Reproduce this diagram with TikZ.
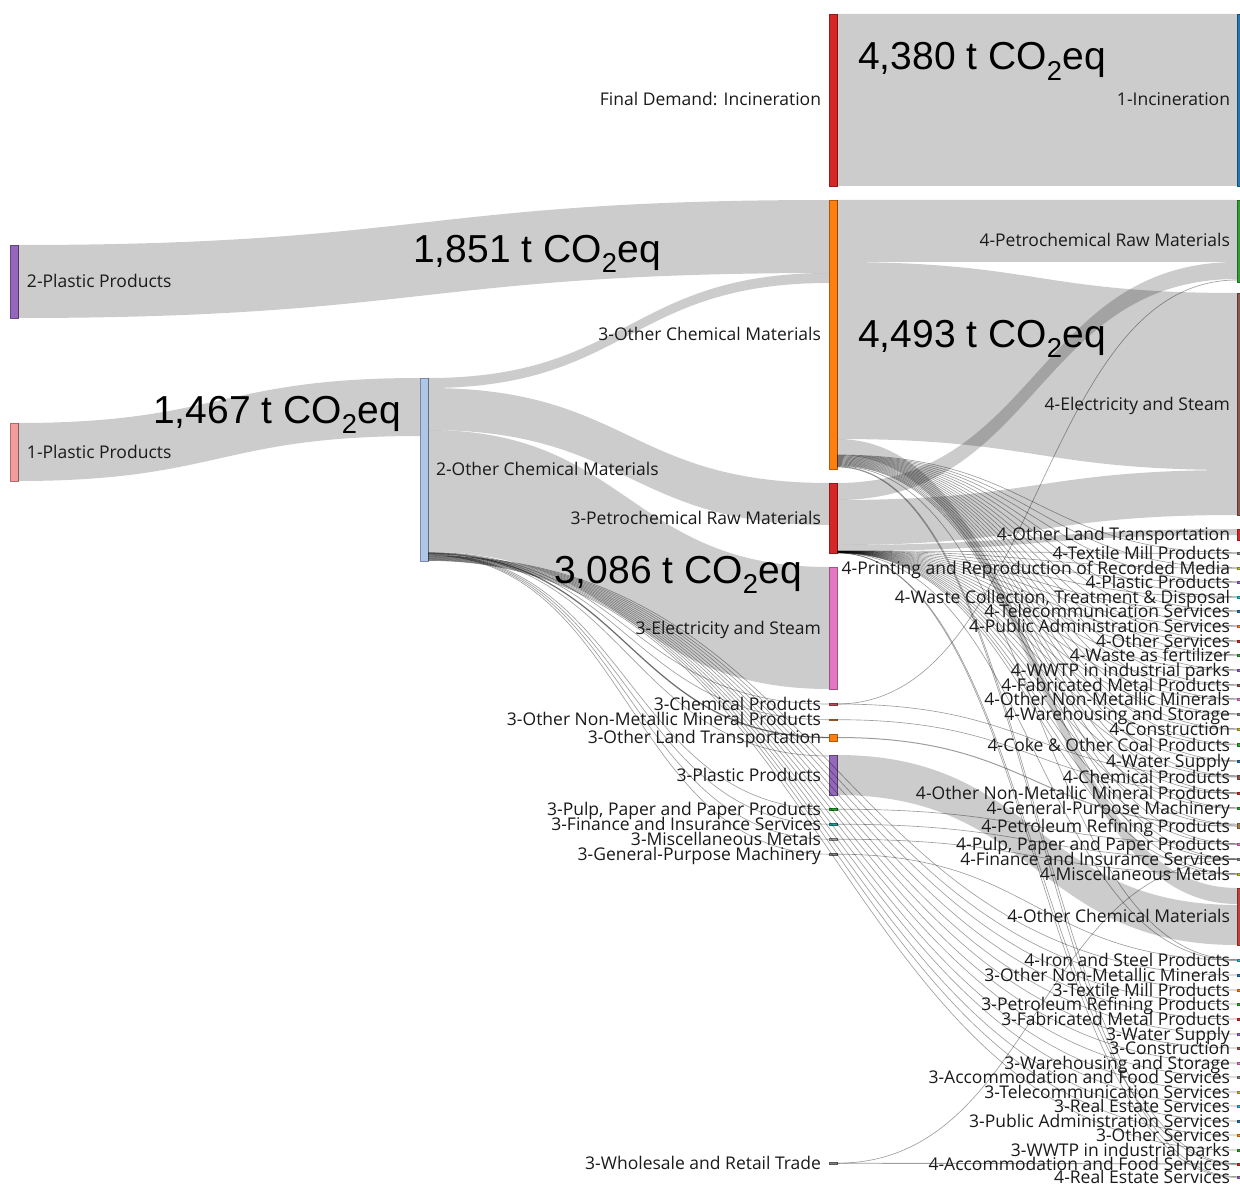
\documentclass[tikz,border=0pt]{standalone}
\usepackage{fontspec}
\setmainfont{Open Sans}
\newfontfamily\numfont{Liberation Sans}
\usetikzlibrary{calc}

\definecolor{cBlue}{HTML}{1F77B4}
\definecolor{cOrange}{HTML}{FF7F0E}
\definecolor{cGreen}{HTML}{2CA02C}
\definecolor{cRed}{HTML}{D62728}
\definecolor{cPurple}{HTML}{9467BD}
\definecolor{cBrown}{HTML}{8C564B}
\definecolor{cBrownL}{HTML}{A07A45}
\definecolor{cPink}{HTML}{E377C2}
\definecolor{cGray}{HTML}{7F7F7F}
\definecolor{cGrayL}{HTML}{A0A0A0}
\definecolor{cOlive}{HTML}{BCBD22}
\definecolor{cCyan}{HTML}{17BECF}
\definecolor{cTeal}{HTML}{2A9D9A}
\definecolor{cSalmon}{HTML}{F49C9C}
\definecolor{cSky}{HTML}{AEC7E8}
\definecolor{cRust}{HTML}{C0403A}
\definecolor{cRose}{HTML}{B0505A}
\definecolor{cAmber}{HTML}{C8782F}
\definecolor{ink}{HTML}{1A1A1A}

% wide ribbon between two bars: source, offset below source top, target, offset below target top, width
\newcommand\ribbon[5]{%
  \fill[flowband] let \p1=(#1.north east), \p2=(#3.north west),
    \n1={(\x1+\x2)/2}, \n2={\y1-(#2)*1pt}, \n3={\y2-(#4)*1pt},
    \n4={\y1-(#2+#5)*1pt}, \n5={\y2-(#4+#5)*1pt} in
    (\x1,\n2) .. controls (\n1,\n2) and (\n1,\n3) .. (\x2,\n3)
    -- (\x2,\n5) .. controls (\n1,\n5) and (\n1,\n4) .. (\x1,\n4) -- cycle;}

% hairline flow: [options] source, offset, target, offset
\newcommand\strand[5][]{%
  \draw[flowline,#1] let \p1=(#2.north east), \p2=(#4.north west),
    \n1={(\x1+\x2)/2}, \n2={\y1-(#3)*1pt}, \n3={\y2-(#5)*1pt} in
    (\x1,\n2) .. controls (\n1,\n2) and (\n1,\n3) .. (\x2,\n3);}

% small sink nodes on the right edge: name/centre/height/colour/label
\def\lowlist{%
 dTextile/553/2/cGray/{4-Textile Mill Products},
 dPrint/568/2/cOlive/{4-Printing and Reproduction of Recorded Media},
 dPlastic/582/2/cPurple/{4-Plastic Products},
 dWaste/597/2/cCyan/{4-Waste Collection, Treatment \& Disposal},
 dTele/611/2/cBlue/{4-Telecommunication Services},
 dPubAdm/626/2/cOrange/{4-Public Administration Services},
 dOSvc/641/2/cRed/{4-Other Services},
 dFert/655/2/cGreen/{4-Waste as fertilizer},
 dWwtp/670/2/cPurple/{4-WWTP in industrial parks},
 dFab/685/2/cBrown/{4-Fabricated Metal Products},
 dNMMin/699/2/cPink/{4-Other Non-Metallic Minerals},
 dWare/714/2/cGray/{4-Warehousing and Storage},
 dConstr/729/2/cOlive/{4-Construction},
 dCoke/745/3/cGreen/{4-Coke \& Other Coal Products},
 dWater/761/2/cBlue/{4-Water Supply},
 dChem/777/4/cBrown/{4-Chemical Products},
 dNMProd/793/2/cRed/{4-Other Non-Metallic Mineral Products},
 dGPM/808/2/cGreen/{4-General-Purpose Machinery},
 dPetRef/826/5/cBrownL/{4-Petroleum Refining Products},
 dPulp/844/2/cPink/{4-Pulp, Paper and Paper Products},
 dFin/859/2/cGray/{4-Finance and Insurance Services},
 dMisc/874/2/cOlive/{4-Miscellaneous Metals},
 dIron/960/2/cCyan/{4-Iron and Steel Products},
 tNMMin/975/2/cBlue/{3-Other Non-Metallic Minerals},
 tTextile/990/2/cOrange/{3-Textile Mill Products},
 tPetRef/1004/2/cGreen/{3-Petroleum Refining Products},
 tFab/1019/2/cRed/{3-Fabricated Metal Products},
 tWater/1034/2/cPurple/{3-Water Supply},
 tConstr/1048/2/cBrown/{3-Construction},
 tWare/1063/2/cPink/{3-Warehousing and Storage},
 tAccom/1077/2/cGray/{3-Accommodation and Food Services},
 tTele/1092/2/cOlive/{3-Telecommunication Services},
 tRealEst/1106/2/cCyan/{3-Real Estate Services},
 tPubAdm/1121/2/cBlue/{3-Public Administration Services},
 tOSvc/1135/2/cOrange/{3-Other Services},
 tWwtp/1150/2/cGreen/{3-WWTP in industrial parks},
 dAccom/1164/2/cRed/{4-Accommodation and Food Services},
 dRealEst/1177/2/cPurple/{4-Real Estate Services}}

\begin{document}
\begin{tikzpicture}[x=1pt,y=-1pt,
  bar/.style={rectangle,inner sep=0pt,outer sep=0pt,minimum width=8pt,anchor=north west,
    fill=#1,draw=#1!70!black,line width=0.6pt},
  flowband/.style={fill=black,fill opacity=0.2},
  flowline/.style={draw=black,draw opacity=0.38,line width=0.65pt},
  lbl/.style={inner sep=0pt,outer sep=0pt,text height=12pt,text depth=0pt,text=ink,
    font=\fontsize{17.5}{17.5}\selectfont},
  bignum/.style={inner sep=0pt,anchor=base west,text=black,
    font=\numfont\fontsize{39}{39}\selectfont}]

\useasboundingbox (0,0) rectangle (1240,1185);
\fill[white] (0,0) rectangle (1240,1185);
\clip (0,0) rectangle (1240,1185);

% ---------- bars ----------
\node[bar=cPurple,minimum height=73pt]  (p2)  at (10,245) {};
\node[bar=cSalmon,minimum height=58pt]  (p1)  at (10,423) {};
\node[bar=cSky,minimum height=183pt]    (oc2) at (420,378) {};

\node[bar=cRed,minimum height=172pt]    (fdi) at (829,14) {};
\node[bar=cOrange,minimum height=269pt] (oc3) at (829,200) {};
\node[bar=cRed,minimum height=70pt]     (pr3) at (829,483) {};
\node[bar=cPink,minimum height=122pt]   (es3) at (829,567) {};
\node[bar=cRose,minimum height=2pt]     (cChem) at (829,703) {};
\node[bar=cAmber,minimum height=1.5pt]  (cNonMet) at (829,719) {};
\node[bar=cOrange,minimum height=7pt]   (cLand) at (829,734) {};
\node[bar=cPurple,minimum height=40pt]  (cPlastic) at (829,755) {};
\node[bar=cGreen,minimum height=1.5pt]  (cPulp) at (829,808.5) {};
\node[bar=cTeal,minimum height=1.5pt]   (cFin) at (829,823.5) {};
\node[bar=cGrayL,minimum height=1.5pt]  (cMisc) at (829,838.5) {};
\node[bar=cGray,minimum height=1.5pt]   (cGPM) at (829,853.5) {};
\node[bar=cGray,minimum height=1.5pt]   (cWhole) at (829,1162.5) {};

\node[bar=cBlue,minimum height=172pt]   (inc) at (1237,14) {};
\node[bar=cGreen,minimum height=82pt]   (d4Petro) at (1237,200) {};
\node[bar=cBrown,minimum height=222pt]  (d4Elec) at (1237,293) {};
\node[bar=cRed,minimum height=11pt]     (dLand) at (1237,529) {};
\node[bar=cRust,minimum height=57pt]    (dOChem) at (1237,888) {};
\foreach \nm/\yy/\hh/\cl/\tx in \lowlist {
  \node[bar=\cl,minimum height=\hh pt] (\nm) at (1237,\yy-\hh/2) {};
}

% ---------- ribbons ----------
\ribbon{fdi}{0}{inc}{0}{172}
\ribbon{p2}{0}{oc3}{0}{73}
\ribbon{p1}{0}{oc2}{0}{58}
\ribbon{oc2}{0}{oc3}{73}{10}
\ribbon{oc2}{10}{pr3}{0}{42}
\ribbon{oc2}{52}{es3}{0}{122}
\ribbon{oc3}{0}{d4Petro}{0}{62}
\ribbon{oc3}{62}{d4Elec}{0}{177}
\ribbon{oc3}{239}{dOChem}{0}{16}
\ribbon{pr3}{0}{d4Petro}{62}{17}
\ribbon{pr3}{17}{d4Elec}{177}{45}
\ribbon{pr3}{62}{dLand}{0}{6}
\ribbon{cPlastic}{0}{dOChem}{17}{40}

% ---------- hairline flows ----------
\foreach \tgt [count=\i from 0] in {dTextile,dPrint,dPlastic,dWaste,dTele,dPubAdm,dOSvc,
    dFert,dWwtp,dFab,dNMMin,dWare,dConstr,dCoke,dWater,dChem,dNMProd,dGPM,dPetRef,
    dPulp,dFin,dMisc,dIron,dAccom,dRealEst} {
  \strand{oc3}{255+0.5*\i}{\tgt}{0.6}
  \strand{pr3}{68+0.08*\i}{\tgt}{1.4}
}
\foreach \tgt/\to [count=\i from 0] in {cChem/1,cNonMet/0.7,cLand/3.5,cPlastic/1,cPulp/0.7,
    cFin/0.7,cMisc/0.7,cGPM/0.7,tNMMin/1,tTextile/1,tPetRef/1,tFab/1,tWater/1,tConstr/1,
    tWare/1,tAccom/1,tTele/1,tRealEst/1,tPubAdm/1,tOSvc/1,tWwtp/1} {
  \strand{oc2}{174.5+0.4*\i}{\tgt}{\to}
}
\strand[line width=1.4pt]{oc2}{175.5}{cLand}{3.5}
\strand{cChem}{1}{d4Petro}{80}
\strand{cChem}{1}{dChem}{2}
\strand{cNonMet}{0.7}{dNMProd}{1}
\strand[line width=1pt]{cLand}{3.5}{dPetRef}{2.5}
\strand{cPulp}{0.7}{dPulp}{1}
\strand{cFin}{0.7}{dFin}{1}
\strand{cMisc}{0.7}{dMisc}{1}
\strand{cGPM}{0.7}{dIron}{1}
\strand[line width=0.9pt]{cWhole}{0.7}{dAccom}{1}
\strand{cWhole}{0.7}{dFin}{1.4}

% ---------- labels ----------
\node[lbl,anchor=west] (p2l)  at ([xshift=9pt]p2.east)  {2-Plastic Products};
\node[lbl,anchor=west] (p1l)  at ([xshift=9pt]p1.east)  {1-Plastic Products};
\node[lbl,anchor=west] (oc2l) at ([xshift=8pt]oc2.east) {2-Other Chemical Materials};

\node[lbl,anchor=east] (fdil) at ([xshift=-8pt]fdi.west) {Final Demand: Incineration};
\node[lbl,anchor=east] (oc3l) at ([xshift=-8pt]oc3.west) {3-Other Chemical Materials};
\node[lbl,anchor=east] (pr3l) at ([xshift=-8pt]pr3.west) {3-Petrochemical Raw Materials};
\node[lbl,anchor=east] (es3l) at ([xshift=-8pt]es3.west) {3-Electricity and Steam};
\node[lbl,anchor=east] (cChemL) at ([xshift=-8pt]cChem.west) {3-Chemical Products};
\node[lbl,anchor=east] (cNonMetL) at ([xshift=-8pt]cNonMet.west) {3-Other Non-Metallic Mineral Products};
\node[lbl,anchor=east] (cLandL) at ([xshift=-8pt]cLand.west) {3-Other Land Transportation};
\node[lbl,anchor=east] (cPlasticL) at ([xshift=-8pt]cPlastic.west) {3-Plastic Products};
\node[lbl,anchor=east] (cPulpL) at ([xshift=-8pt]cPulp.west) {3-Pulp, Paper and Paper Products};
\node[lbl,anchor=east] (cFinL) at ([xshift=-8pt]cFin.west) {3-Finance and Insurance Services};
\node[lbl,anchor=east] (cMiscL) at ([xshift=-8pt]cMisc.west) {3-Miscellaneous Metals};
\node[lbl,anchor=east] (cGPML) at ([xshift=-8pt]cGPM.west) {3-General-Purpose Machinery};
\node[lbl,anchor=east] (cWholeL) at ([xshift=-8pt]cWhole.west) {3-Wholesale and Retail Trade};

\node[lbl,anchor=east] (incl) at ([xshift=-7pt]inc.west) {1-Incineration};
\node[lbl,anchor=east] (d4Petrol) at ([xshift=-7pt]d4Petro.west) {4-Petrochemical Raw Materials};
\node[lbl,anchor=east] (d4Elecl) at ([xshift=-7pt]d4Elec.west) {4-Electricity and Steam};
\node[lbl,anchor=east] (dLandl) at ([xshift=-7pt]dLand.west) {4-Other Land Transportation};
\node[lbl,anchor=east] (dOCheml) at ([xshift=-7pt]dOChem.west) {4-Other Chemical Materials};
\foreach \nm/\yy/\hh/\cl/\tx in \lowlist {
  \node[lbl,anchor=east] at ([xshift=-7pt]\nm.west) {\tx};
}

% ---------- flow totals ----------
\node[bignum] (vInc)  at (858,70)  {4,380 t CO\textsubscript{2}eq};
\node[bignum] (vP2)   at (413,262) {1,851 t CO\textsubscript{2}eq};
\node[bignum] (vElec) at (858,347) {4,493 t CO\textsubscript{2}eq};
\node[bignum] (vP1)   at (153,423) {1,467 t CO\textsubscript{2}eq};
\node[bignum] (vEs3)  at (554,583) {3,086 t CO\textsubscript{2}eq};
\end{tikzpicture}
\end{document}
